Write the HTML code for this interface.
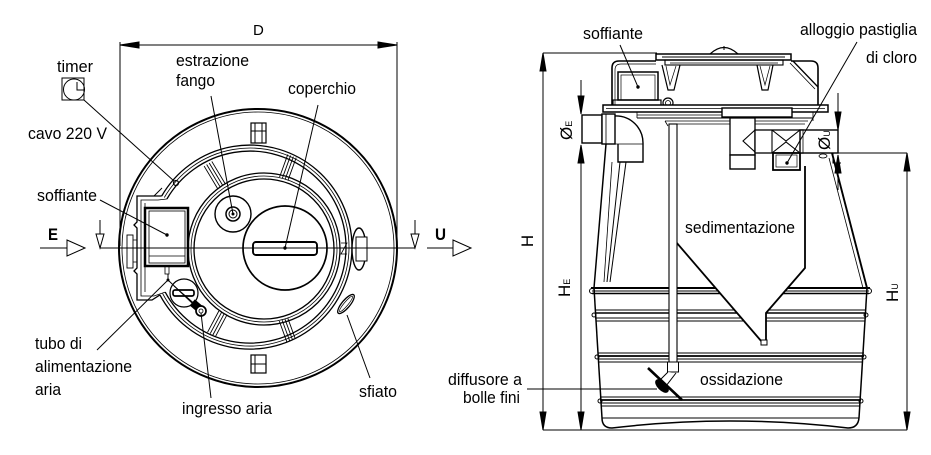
<!DOCTYPE html>
<html><head><meta charset="utf-8">
<style>
html,body{margin:0;padding:0;background:#fff;}
svg{display:block;}
text{font-family:"Liberation Sans",Arial,sans-serif;font-size:17px;fill:#000;stroke:none;}
</style></head><body>
<svg width="931" height="455" viewBox="0 0 931 455" xmlns="http://www.w3.org/2000/svg">
<rect width="931" height="455" fill="#fff"/>
<g fill="none" stroke="#000" stroke-width="1">

<!-- ================= LEFT VIEW ================= -->
<line x1="120" y1="42" x2="120" y2="246"/>
<line x1="397" y1="42" x2="397" y2="246"/>
<line x1="120" y1="45" x2="397" y2="45"/>
<polygon points="120,45 139,42 139,48" fill="#000"/>
<polygon points="397,45 378,42 378,48" fill="#000"/>

<circle cx="258" cy="248" r="139" stroke-width="2"/>
<circle cx="258" cy="248" r="136" stroke-width="0.8"/>

<rect x="251" y="123" width="15" height="20" fill="#fff" stroke-width="1.2"/>
<line x1="251" y1="131" x2="266" y2="131"/>
<line x1="255" y1="123" x2="255" y2="143"/>
<line x1="262" y1="123" x2="262" y2="143"/>
<rect x="251" y="355" width="15" height="18" fill="#fff" stroke-width="1.2"/>
<line x1="251" y1="364" x2="266" y2="364"/>
<line x1="255" y1="355" x2="255" y2="373"/>

<path d="M161.7,196 A102,102 0 1 1 159.9,294.9" stroke-width="1.3"/>
<path d="M164.3,197.5 A99,99 0 1 1 162.6,293.5" stroke-width="0.8"/>
<path d="M166.9,199 A96,96 0 1 1 165.2,292.1" stroke-width="1.3"/>

<path d="M161.7,196 L154,196 L137,196 L137,222 L134,225 L137,228 L137,268 L134,271 L137,274 L137,300 L152,300 L159.9,294.9" stroke-width="1.3"/>
<path d="M166.9,199 L158,200 L141,200 L141,296 L154,296 L165.2,292.1" stroke-width="0.8"/>
<path d="M162,188 L154,196"/>
<line x1="145" y1="203" x2="145" y2="292" stroke-width="0.8"/>
<rect x="127" y="235" width="6" height="33" stroke-width="0.9"/>
<path d="M133,240 L137,240 M133,262 L137,262" stroke-width="0.8"/>

<circle cx="264" cy="249" r="76" stroke-width="1.3"/>
<circle cx="264" cy="249" r="73" stroke-width="0.8"/>
<circle cx="264" cy="249" r="70" stroke-width="1.3"/>

<g transform="translate(258,248) rotate(-121)" stroke-width="0.9">
<line x1="72" y1="-4" x2="98" y2="-4"/><line x1="72" y1="-1" x2="98" y2="-1"/><line x1="72" y1="2" x2="98" y2="2"/><line x1="72" y1="5" x2="98" y2="5"/>
</g>
<g transform="translate(258,248) rotate(-70)" stroke-width="0.9">
<line x1="74" y1="-4" x2="98" y2="-4"/><line x1="74" y1="-1" x2="98" y2="-1"/><line x1="74" y1="2" x2="98" y2="2"/><line x1="74" y1="5" x2="98" y2="5"/>
</g>
<g transform="translate(258,248) rotate(118)" stroke-width="0.9">
<line x1="74" y1="-4" x2="98" y2="-4"/><line x1="74" y1="-1" x2="98" y2="-1"/><line x1="74" y1="2" x2="98" y2="2"/><line x1="74" y1="5" x2="98" y2="5"/>
</g>
<g transform="translate(258,248) rotate(70)" stroke-width="0.9">
<line x1="76" y1="-4" x2="98" y2="-4"/><line x1="76" y1="-1" x2="98" y2="-1"/><line x1="76" y1="2" x2="98" y2="2"/><line x1="76" y1="5" x2="98" y2="5"/>
</g>

<ellipse cx="359" cy="249" rx="7" ry="21" fill="#fff" stroke-width="1.4"/>
<rect x="356" y="237" width="11" height="24" fill="#fff"/>
<path d="M341,243 L347,243 L341,254 L347,254" stroke-width="0.8"/>

<ellipse cx="346" cy="304" rx="4" ry="12" transform="rotate(40 346 304)" stroke-width="1.3"/>
<ellipse cx="346" cy="304" rx="2" ry="10" transform="rotate(40 346 304)" stroke-width="0.7"/>

<circle cx="233" cy="214" r="18" stroke-width="1.4"/>
<circle cx="233" cy="214" r="7" stroke-width="1.5"/>
<circle cx="233" cy="214" r="4" stroke-width="1"/>

<circle cx="285" cy="248" r="42" stroke-width="1.7" fill="#fff"/>
<rect x="253" y="242" width="64" height="13" rx="3" stroke-width="1.9" fill="#fff"/>

<rect x="145" y="208" width="43" height="58" stroke-width="2.5" fill="#fff"/>
<rect x="149" y="211" width="36" height="52" stroke-width="0.8"/>
<line x1="149" y1="256" x2="185" y2="256" stroke-width="0.8"/>
<rect x="165" y="266" width="4" height="8" stroke-width="0.8"/>

<circle cx="184" cy="293" r="14" stroke-width="1.2" fill="#fff"/>
<rect x="173" y="290" width="21" height="6" rx="2" stroke-width="1.7"/>
<line x1="174" y1="286" x2="205" y2="313" stroke-width="0.9"/>
<rect x="192" y="302" width="9" height="7" transform="rotate(40 196 305)" fill="#000"/>
<circle cx="201" cy="311" r="5" stroke-width="1.7" fill="#fff"/>
<circle cx="201" cy="311" r="2" stroke-width="0.8"/>

<line x1="100" y1="248" x2="415" y2="248"/>
<line x1="100" y1="220" x2="100" y2="248"/>
<polygon points="96,234 104,234 100,248" fill="#fff"/>
<line x1="415" y1="220" x2="415" y2="248"/>
<polygon points="411,234 419,234 415,248" fill="#fff"/>

<line x1="40" y1="248" x2="67" y2="248"/>
<polygon points="67,240 85,248 67,256" fill="#fff"/>
<line x1="427" y1="248" x2="453" y2="248"/>
<polygon points="453,240 471,248 453,256" fill="#fff"/>

<rect x="62" y="78" width="22" height="22"/>
<circle cx="74" cy="89.5" r="10.5"/>
<path d="M77,82 L77,90 L84,90"/>

<line x1="84" y1="100" x2="174" y2="181"/>
<circle cx="176" cy="183" r="2.5" stroke-width="1.2"/>
<line x1="211" y1="96" x2="233" y2="214"/>
<circle cx="233" cy="214" r="1" fill="#000"/>
<line x1="318" y1="105" x2="285" y2="248"/>
<circle cx="285" cy="248" r="1.2" fill="#000"/>
<line x1="100" y1="200" x2="167" y2="235"/>
<circle cx="167" cy="235" r="1.2" fill="#000"/>
<line x1="97" y1="350" x2="168" y2="280"/>
<line x1="168" y1="274" x2="168" y2="280"/>
<line x1="168" y1="280" x2="192" y2="303"/>
<circle cx="168" cy="280" r="1" fill="#000"/>
<line x1="211" y1="398" x2="201" y2="313"/>
<line x1="370" y1="378" x2="347" y2="315"/>

<!-- ================= RIGHT VIEW ================= -->
<line x1="543" y1="53" x2="657" y2="53"/>
<line x1="543" y1="53" x2="543" y2="430"/>
<line x1="543" y1="430" x2="907" y2="430"/>
<polygon points="543,53 540,71 546,71" fill="#000"/>
<polygon points="543,430 540,412 546,412" fill="#000"/>

<line x1="581" y1="80" x2="581" y2="114"/>
<polygon points="581,114 578,96 584,96" fill="#000"/>
<line x1="581" y1="145" x2="581" y2="430"/>
<polygon points="581,145 578,163 584,163" fill="#000"/>
<polygon points="581,430 578,412 584,412" fill="#000"/>

<line x1="838" y1="93" x2="838" y2="130"/>
<polygon points="838,130 835,112 841,112" fill="#000"/>
<line x1="838" y1="155" x2="838" y2="190"/>
<polygon points="838,155 835,173 841,173" fill="#000"/>

<line x1="823" y1="153" x2="907" y2="153"/>
<line x1="907" y1="153" x2="907" y2="430"/>
<polygon points="907,153 904,171 910,171" fill="#000"/>
<polygon points="907,430 904,412 910,412" fill="#000"/>

<path d="M710,54 Q724,41 738,54" stroke-width="1.2"/>
<line x1="724" y1="46" x2="724" y2="50"/>
<rect x="656" y="54" width="135" height="6" stroke-width="1.5"/>
<line x1="662" y1="57" x2="785" y2="57"/>
<rect x="665" y="60" width="118" height="5" stroke-width="1.1"/>
<line x1="670" y1="63" x2="778" y2="63" stroke-width="0.7"/>
<path d="M662,65 L668,90 L674,90 L680,65" stroke-width="1.2"/>
<path d="M666,66 L670,85 L676,66" stroke-width="0.7"/>
<path d="M757,65 L762,90 L768,90 L773,65" stroke-width="1.2"/>
<path d="M760,66 L765,85 L770,66" stroke-width="0.7"/>

<path d="M612,106 L612,68 Q612,61 619,61 L656,61 M791,61 L811,61 Q818,61 818,68 L818,106" stroke-width="1.6"/>
<path d="M615,106 L615,70 Q615,64 621,64 L656,64" stroke-width="0.7"/>
<line x1="793" y1="61" x2="818" y2="87" stroke-width="1.3"/>
<line x1="790" y1="63" x2="815" y2="89" stroke-width="0.8"/>

<rect x="618" y="72" width="40" height="28" stroke-width="1.5"/>
<rect x="621" y="75" width="34" height="25" stroke-width="0.7"/>
<rect x="613" y="100" width="48" height="6" stroke-width="1.2"/>
<circle cx="638" cy="87" r="1.2" fill="#000"/>
<circle cx="668" cy="103" r="5" stroke-width="1.2"/>
<circle cx="668" cy="103" r="2.5" stroke-width="0.8"/>

<rect x="603" y="105" width="225" height="7" stroke-width="1.5" fill="#fff"/>
<line x1="606" y1="108.5" x2="825" y2="108.5" stroke-width="0.7"/>
<rect x="722" y="108" width="70" height="9" stroke-width="1.4" fill="#fff"/>
<line x1="637" y1="115" x2="722" y2="115" stroke-width="0.8"/>
<line x1="637" y1="118" x2="813" y2="118" stroke-width="1"/>
<line x1="665" y1="121" x2="808" y2="121" stroke-width="0.8"/>
<line x1="637" y1="112" x2="637" y2="118" stroke-width="0.8"/>
<line x1="813" y1="112" x2="813" y2="121" stroke-width="0.8"/>
<line x1="665" y1="121" x2="668" y2="126" stroke-width="0.8"/>

<line x1="606" y1="144" x2="594" y2="288" stroke-width="1.5"/>
<line x1="832" y1="153" x2="867" y2="288" stroke-width="1.9"/>
<line x1="829" y1="158" x2="863" y2="288" stroke-width="0.8"/>
<line x1="612" y1="162" x2="604" y2="282" stroke-width="0.8"/>
<line x1="620" y1="162" x2="607" y2="282" stroke-width="1"/>
<line x1="626" y1="162" x2="610" y2="282" stroke-width="1"/>

<path d="M594,288 L602,418" stroke-width="1.5"/>
<path d="M867,288 L859,418" stroke-width="1.5"/>
<line x1="602" y1="418" x2="859" y2="418" stroke-width="1"/>
<path d="M602,418 Q602,428 612,428 Q730,414 848,428 Q858,428 859,418" stroke-width="1.5"/>

<g stroke-width="1">
<line x1="591" y1="288" x2="870" y2="288" stroke-width="2"/>
<line x1="592" y1="291" x2="869" y2="291"/>
<line x1="592" y1="293.5" x2="869" y2="293.5" stroke-width="1.6"/>
<circle cx="592" cy="291" r="2.5"/>
<circle cx="869" cy="291" r="2.5"/>
<line x1="595" y1="310" x2="866" y2="310"/>
<line x1="595" y1="313" x2="866" y2="313" stroke-width="1.6"/>
<line x1="595" y1="318" x2="866" y2="318"/>
<line x1="596" y1="321" x2="865" y2="321"/>
<circle cx="594" cy="315" r="2"/>
<circle cx="866" cy="315" r="2"/>
<line x1="598" y1="353" x2="864" y2="353"/>
<line x1="598" y1="356" x2="864" y2="356" stroke-width="1.8"/>
<line x1="598" y1="359" x2="863" y2="359"/>
<line x1="598" y1="362" x2="863" y2="362"/>
<circle cx="597" cy="357" r="2"/>
<circle cx="864" cy="357" r="2"/>
<line x1="600" y1="397" x2="861" y2="397"/>
<line x1="600" y1="400" x2="861" y2="400" stroke-width="1.8"/>
<line x1="601" y1="403" x2="861" y2="403"/>
<line x1="601" y1="406" x2="860" y2="406"/>
<circle cx="600" cy="401" r="2"/>
<circle cx="861" cy="401" r="2"/>
</g>

<path d="M670,122 L670,235 L762,343 L766,343 L766,313 L805,268 L805,122 Z" fill="#fff" stroke="none"/>
<line x1="670" y1="235" x2="762" y2="342" stroke-width="1.8"/>
<path d="M805,166 L805,268 L766,313 L766,342" stroke-width="1.8"/>
<rect x="761" y="340" width="6" height="5" stroke-width="1" fill="#fff"/>
<line x1="670" y1="124" x2="805" y2="124" stroke-width="0.8"/>

<rect x="669" y="124" width="8" height="246" fill="#fff" stroke-width="1.1"/>
<rect x="667.5" y="362" width="11" height="10" fill="#fff" stroke-width="1"/>
<path d="M668,372 L660,380 L666,386 L676,373" fill="#fff" stroke-width="1"/>
<line x1="648" y1="368" x2="682" y2="400" stroke-width="2.6"/>
<ellipse cx="662" cy="386" rx="8" ry="4" transform="rotate(45 662 386)" fill="#000"/>

<rect x="582" y="115" width="20" height="28" stroke-width="1.4" fill="#fff"/>
<rect x="602" y="114" width="13" height="30" stroke-width="1.4" fill="#fff"/>
<line x1="606" y1="114" x2="606" y2="144" stroke-width="0.8"/>
<path d="M615,116 A27,27 0 0 1 643,143 L643,162 L618,162 L618,144" stroke-width="1.4"/>
<line x1="615" y1="144" x2="643" y2="144" stroke-width="0.8"/>

<rect x="730" y="118" width="25" height="37" fill="#fff" stroke-width="1.3"/>
<rect x="730" y="155" width="25" height="14" fill="#fff" stroke-width="1.4"/>
<path d="M755,130 L743,141 L755,152" stroke-width="1.1"/>
<rect x="755" y="130" width="48" height="23" fill="#fff" stroke-width="1.3"/>
<line x1="772" y1="130" x2="772" y2="153" stroke-width="1.1"/>
<path d="M772,130 L786,141 L800,130 M772,153 L786,142 L800,153" stroke-width="1.1"/>
<rect x="773" y="153" width="27" height="17" stroke-width="1.8" fill="#fff"/>
<rect x="776" y="155" width="21" height="12" stroke-width="0.7"/>
<rect x="800" y="130" width="38" height="23" fill="#fff" stroke-width="1.4"/>
<line x1="803" y1="130" x2="803" y2="153" stroke-width="0.8"/>
<path d="M833,153 L833,163 L841,163" stroke-width="1"/>
<ellipse cx="823" cy="156" rx="4" ry="2" stroke-width="0.8"/>

<line x1="620" y1="45" x2="638" y2="87"/>
<line x1="857" y1="42" x2="787" y2="163"/>
<circle cx="787" cy="163" r="1.2" fill="#000"/>
<line x1="527" y1="389" x2="657" y2="389"/>
</g>

<!-- ================= TEXT ================= -->
<text x="253" y="35" style="font-size:15px">D</text>
<text x="57" y="72" textLength="36" lengthAdjust="spacingAndGlyphs">timer</text>
<text x="176" y="66" textLength="73" lengthAdjust="spacingAndGlyphs">estrazione</text>
<text x="176" y="86" textLength="39" lengthAdjust="spacingAndGlyphs">fango</text>
<text x="288" y="94" textLength="68" lengthAdjust="spacingAndGlyphs">coperchio</text>
<text x="28" y="139" textLength="79" lengthAdjust="spacingAndGlyphs">cavo 220 V</text>
<text x="37" y="201" textLength="60" lengthAdjust="spacingAndGlyphs">soffiante</text>
<text x="48" y="240" font-weight="bold" textLength="10" lengthAdjust="spacingAndGlyphs">E</text>
<text x="435" y="240" font-weight="bold" textLength="11" lengthAdjust="spacingAndGlyphs">U</text>
<text x="35" y="349" textLength="47" lengthAdjust="spacingAndGlyphs">tubo di</text>
<text x="35" y="372" textLength="97" lengthAdjust="spacingAndGlyphs">alimentazione</text>
<text x="35" y="395" textLength="26" lengthAdjust="spacingAndGlyphs">aria</text>
<text x="182" y="414" textLength="90" lengthAdjust="spacingAndGlyphs">ingresso aria</text>
<text x="359" y="397" textLength="38" lengthAdjust="spacingAndGlyphs">sfiato</text>

<text x="583" y="39" textLength="60" lengthAdjust="spacingAndGlyphs">soffiante</text>
<text x="800" y="35" textLength="117" lengthAdjust="spacingAndGlyphs">alloggio pastiglia</text>
<text x="866" y="63" textLength="51" lengthAdjust="spacingAndGlyphs">di cloro</text>
<text x="685" y="233" textLength="110" lengthAdjust="spacingAndGlyphs">sedimentazione</text>
<text x="700" y="385" textLength="83" lengthAdjust="spacingAndGlyphs">ossidazione</text>
<text x="448" y="385" textLength="74" lengthAdjust="spacingAndGlyphs">diffusore a</text>
<text x="463" y="403" textLength="57" lengthAdjust="spacingAndGlyphs">bolle fini</text>

<text transform="translate(533,241) rotate(-90)" text-anchor="middle">H</text>
<text transform="translate(570,297) rotate(-90)">H<tspan font-size="9">E</tspan></text>
<text transform="translate(572,140) rotate(-90)">Ø<tspan font-size="9">E</tspan></text>
<text transform="translate(830,150) rotate(-90)">Ø<tspan font-size="9">U</tspan></text>
<text transform="translate(898,302) rotate(-90)">H<tspan font-size="9">U</tspan></text>
</svg>
</body></html>
